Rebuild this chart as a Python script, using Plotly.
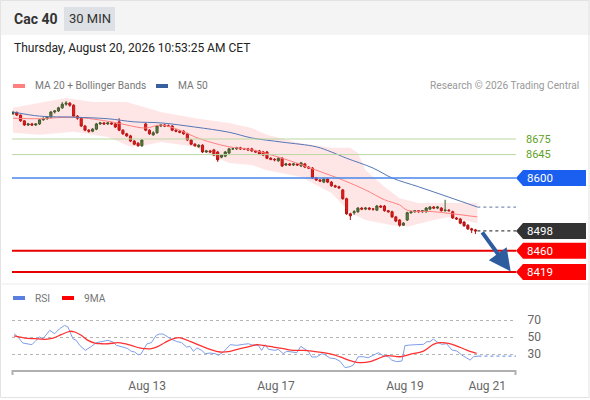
import plotly.graph_objects as go

# 30 min candles, Aug 11 -> Aug 20 10:30
opens = [8724, 8726, 8721, 8710, 8702, 8704, 8702, 8704, 8712, 8714,
         8717, 8727, 8729, 8735, 8742, 8744, 8740, 8719, 8715, 8700,
         8692, 8690, 8694, 8704, 8706, 8704, 8706, 8704, 8708, 8692,
         8685, 8681, 8671, 8667, 8662, 8704, 8692, 8683, 8687, 8700,
         8702, 8700, 8700, 8692, 8690, 8690, 8685, 8673, 8665, 8660,
         8663, 8650, 8652, 8654, 8650, 8640, 8642, 8648, 8656, 8656,
         8658, 8656, 8656, 8656, 8652, 8652, 8650, 8650, 8638, 8636,
         8633, 8638, 8625, 8627, 8625, 8627, 8623, 8627, 8621, 8619,
         8600, 8596, 8592, 8598, 8592, 8585, 8583, 8577, 8560, 8531,
         8533, 8535, 8542, 8540, 8542, 8540, 8538, 8546, 8546, 8537,
         8535, 8525, 8519, 8509, 8519, 8533, 8535, 8537, 8535, 8535,
         8540, 8544, 8542, 8542, 8537, 8538, 8535, 8523, 8521, 8515,
         8509, 8502, 8500]
highs = [8729, 8728, 8722, 8711, 8706, 8706, 8705, 8713, 8717, 8719,
         8729, 8731, 8737, 8746, 8748, 8746, 8742, 8721, 8717, 8702,
         8694, 8696, 8706, 8708, 8708, 8708, 8708, 8706, 8715, 8694,
         8687, 8683, 8673, 8669, 8675, 8706, 8694, 8690, 8702, 8704,
         8704, 8703, 8702, 8694, 8692, 8692, 8687, 8675, 8667, 8665,
         8665, 8654, 8654, 8656, 8652, 8646, 8652, 8658, 8658, 8660,
         8660, 8658, 8658, 8658, 8654, 8654, 8652, 8652, 8640, 8638,
         8640, 8640, 8629, 8629, 8629, 8629, 8631, 8629, 8623, 8621,
         8602, 8598, 8600, 8600, 8594, 8587, 8585, 8579, 8562, 8533,
         8538, 8544, 8544, 8544, 8544, 8542, 8548, 8548, 8548, 8538,
         8537, 8527, 8521, 8515, 8535, 8537, 8538, 8538, 8538, 8544,
         8546, 8546, 8546, 8544, 8558, 8540, 8537, 8525, 8523, 8517,
         8511, 8504, 8502]
lows = [8721, 8719, 8708, 8700, 8700, 8700, 8700, 8702, 8710, 8712,
        8715, 8724, 8727, 8733, 8739, 8737, 8717, 8712, 8698, 8690,
        8687, 8688, 8692, 8702, 8702, 8702, 8702, 8696, 8690, 8683,
        8679, 8669, 8663, 8660, 8660, 8690, 8683, 8681, 8685, 8698,
        8698, 8698, 8690, 8688, 8686, 8683, 8671, 8663, 8660, 8658,
        8648, 8648, 8648, 8642, 8631, 8638, 8640, 8646, 8654, 8654,
        8654, 8654, 8652, 8650, 8648, 8644, 8642, 8636, 8634, 8632,
        8631, 8621, 8623, 8623, 8623, 8623, 8621, 8619, 8617, 8598,
        8594, 8592, 8590, 8590, 8583, 8581, 8579, 8558, 8529, 8519,
        8529, 8533, 8538, 8538, 8538, 8537, 8537, 8542, 8535, 8533,
        8523, 8515, 8506, 8508, 8517, 8531, 8533, 8533, 8533, 8533,
        8538, 8540, 8540, 8535, 8535, 8535, 8521, 8519, 8511, 8506,
        8500, 8494, 8492]
closes = [8726, 8721, 8710, 8702, 8704, 8702, 8704, 8712, 8714, 8717,
          8727, 8729, 8735, 8742, 8744, 8740, 8719, 8715, 8700, 8692,
          8690, 8694, 8704, 8706, 8704, 8706, 8704, 8698, 8692, 8685,
          8681, 8671, 8665, 8662, 8673, 8692, 8685, 8687, 8700, 8702,
          8700, 8700, 8692, 8690, 8688, 8685, 8673, 8665, 8662, 8663,
          8650, 8652, 8650, 8644, 8635, 8644, 8650, 8656, 8656, 8658,
          8656, 8656, 8654, 8652, 8650, 8646, 8644, 8638, 8636, 8635,
          8638, 8623, 8627, 8625, 8627, 8625, 8629, 8621, 8619, 8600,
          8596, 8594, 8598, 8592, 8585, 8583, 8581, 8560, 8531, 8527,
          8535, 8542, 8540, 8542, 8540, 8540, 8546, 8544, 8537, 8535,
          8525, 8517, 8509, 8513, 8533, 8535, 8537, 8535, 8537, 8542,
          8544, 8542, 8544, 8537, 8538, 8537, 8523, 8521, 8513, 8508,
          8502, 8500, 8498]
bars = list(range(len(closes)))

# moving averages (bar index, price)
ma50_x = [0, 7, 16, 25, 32, 39, 48, 57, 63, 71, 80, 84, 88, 95, 100, 107, 115, 122.5]
ma50 = [8727, 8719, 8717, 8714, 8708, 8706, 8698, 8688, 8677, 8669, 8660, 8650,
        8638, 8619, 8600, 8583, 8563, 8544]
ma20_x = [0, 7, 16, 26, 30, 35, 39, 44, 48, 52, 57, 63, 71, 80, 87, 93, 98, 102, 104, 111, 122.5]
ma20 = [8715, 8714, 8717, 8708, 8702, 8696, 8702, 8692, 8679, 8669, 8660, 8654,
        8638, 8615, 8596, 8577, 8558, 8548, 8538, 8535, 8525]
bb_up_x = [0, 7, 14, 21, 30, 39, 48, 57, 63, 67, 76, 84, 89, 91, 93, 98, 102, 107, 115, 122.5]
bb_up = [8735, 8744, 8754, 8746, 8746, 8727, 8715, 8706, 8696, 8683, 8667, 8658,
         8658, 8648, 8615, 8583, 8561, 8552, 8552, 8552]
bb_low_x = [0, 7, 16, 25, 31, 35, 39, 48, 52, 57, 63, 67, 76, 84, 89, 93, 100, 104, 111, 115, 122.5]
bb_low = [8687, 8683, 8689, 8679, 8660, 8663, 8669, 8660, 8644, 8629, 8625, 8615,
          8602, 8571, 8533, 8519, 8509, 8506, 8519, 8525, 8513]

# RSI panel
rsi_x = [0.3, 1.3, 2.6, 4.0, 5.0, 6.1, 7.0, 7.9, 9.7, 11.0, 12.3, 13.6, 14.5, 15.8,
         16.7, 17.6, 19.1, 20.7, 22.0, 23.7, 25.1, 26.4, 27.3, 29.0, 30.3, 31.2, 32.1,
         33.0, 33.7, 34.7, 35.4, 36.5, 37.8, 38.7, 39.6, 40.4, 41.8, 43.1, 44.5, 45.8,
         46.7, 47.6, 48.5, 49.8, 50.7, 52.0, 53.3, 54.2, 55.5, 57.3, 59.0, 60.8, 62.1,
         63.4, 64.7, 65.6, 66.5, 67.4, 69.1, 70.0, 71.3, 72.2, 73.5, 74.9, 75.9, 77.0,
         77.9, 78.8, 80.1, 81.5, 82.3, 83.6, 85.0, 86.3, 87.6, 88.9, 89.8, 91.1, 92.4,
         93.7, 95.1, 96.4, 97.7, 99.0, 99.9, 101.2, 102.6, 103.4, 104.7, 106.9, 108.3,
         109.2, 110.0, 110.9, 111.8, 113.1, 114.4, 115.8, 117.1, 118.4, 119.7, 120.6,
         121.5, 122.8]
rsi = [53.9, 50, 42.9, 42.1, 41, 46.1, 50, 48, 57.8, 53.9, 59.8, 63.7, 61.8, 48,
       46.1, 40.2, 34.3, 39, 43.3, 44.9, 46.1, 44.1, 40.2, 38.2, 36.3, 33.2, 32.4,
       29.2, 29.6, 37.1, 42.1, 43.3, 52, 53.5, 53.5, 51.2, 47.3, 44.9, 43.3, 38.2,
       39, 33.2, 37.1, 34.3, 30.4, 31.2, 30.4, 28.5, 32.4, 41, 40.2, 41.4, 42.1,
       40.2, 40.2, 34.3, 41, 35.5, 34.3, 35.5, 30.4, 33.2, 32.4, 31.6, 39, 36.3,
       33.2, 26.5, 26.5, 30.4, 29.2, 25.3, 24.5, 21.4, 13.9, 15.1, 17.1, 26.8, 26.8,
       25.6, 28.8, 31.6, 28, 26.8, 22.9, 21, 21.8, 39.8, 40.6, 40.6, 41.4,
       44.5, 44.5, 47.6, 44.5, 41.4, 42.1, 34.7, 33.5, 28.8, 24.9, 22.9,
       26.8, 27.6]
ma9_x = [0.3, 3.1, 5.7, 8.4, 10.6, 12.7, 15.0, 16.3, 18.0, 19.8, 21.6, 23.3, 25.1,
         27.7, 29.5, 31.2, 33.4, 34.7, 36.5, 38.3, 40.0, 41.8, 43.7, 44.9, 46.7, 49.3,
         52.0, 54.6, 57.3, 59.9, 62.5, 64.3, 66.0, 68.7, 71.3, 74.0, 76.6, 79.2, 81.9,
         84.5, 86.3, 90.7, 94.2, 96.0, 98.6, 102.1, 104.7, 108.3, 110.9, 112.7, 114.9,
         117.1, 119.7, 122.3]
ma9 = [51.2, 48.8, 48, 47.3, 48.8, 52.7, 56.7, 55.9, 52, 46.1, 42.9, 42.1, 42.1,
       43.3, 42.1, 40.2, 37.1, 36.3, 36.3, 39, 43.3, 47.3, 49.2, 48, 44.9, 40.2,
       35.5, 32.4, 33.2, 36.3, 39, 41, 40.2, 38.2, 36.3, 34.3, 34.3, 33.2, 31.6,
       29.2, 26.5, 20.2, 21, 24.1, 28, 26.8, 29.6, 33.5, 41.4, 43.3, 42.6,
       39.4, 34.7, 30.8]

tick_pos = [35.4, 69.4, 103.4, 125.1]
tick_text = ["Aug 13", "Aug 17", "Aug 19", "Aug 21"]

# key levels
res_levels = [8675, 8645]
pivot = 8600
last_price = closes[-1]
sup_levels = [8460, 8419]

W, H = 590, 400
def px(x):
    return x / W
def py(y):
    return 1 - y / H

XR = [-0.26, 132.7]
FONT = "Roboto, Arial, sans-serif"

fig = go.Figure()

fig.add_trace(go.Scatter(x=bb_up_x + bb_low_x[::-1], y=bb_up + bb_low[::-1],
                         fill="toself", fillcolor="rgba(255,60,60,0.13)",
                         line=dict(width=0), mode="lines", hoverinfo="skip"))
fig.add_trace(go.Scatter(x=ma20_x, y=ma20, mode="lines",
                         line=dict(color="#ff8080", width=1, shape="spline")))
fig.add_trace(go.Scatter(x=ma50_x, y=ma50, mode="lines",
                         line=dict(color="#5577b8", width=1, shape="spline")))
fig.add_trace(go.Scatter(x=[ma50_x[-1], XR[1]], y=[ma50[-1], ma50[-1]], mode="lines",
                         line=dict(color="#7d8fb5", width=1.2, dash="dot")))
fig.add_trace(go.Scatter(x=[bars[-1] + 0.5, XR[1]], y=[last_price, last_price], mode="lines",
                         line=dict(color="#444444", width=1.2, dash="dot")))

fig.add_trace(go.Candlestick(
    x=bars, open=opens, high=highs, low=lows, close=closes,
    increasing=dict(line=dict(color="#2b5e2b", width=1), fillcolor="#3f8f3f"),
    decreasing=dict(line=dict(color="#b01010", width=1), fillcolor="#e81515"),
    whiskerwidth=0))

fig.add_trace(go.Scatter(x=rsi_x, y=rsi, mode="lines", xaxis="x2", yaxis="y2",
                         line=dict(color="#7e9ee8", width=1)))
fig.add_trace(go.Scatter(x=[rsi_x[-1], XR[1]], y=[rsi[-1], rsi[-1]], mode="lines",
                         xaxis="x2", yaxis="y2",
                         line=dict(color="#7e9ee8", width=1.2, dash="dot")))
fig.add_trace(go.Scatter(x=ma9_x, y=ma9, mode="lines", xaxis="x2", yaxis="y2",
                         line=dict(color="#ff3030", width=1.3, shape="spline")))

shapes = []
annotations = []

# card + header
shapes.append(dict(type="rect", xref="paper", yref="paper", x0=0, x1=1, y0=py(35), y1=1,
                   fillcolor="#f4f4f4", line=dict(width=0), layer="below"))
shapes.append(dict(type="rect", xref="paper", yref="paper", x0=px(64), x1=px(115),
                   y0=py(31), y1=py(7), fillcolor="#dde0e4", line=dict(width=0), layer="below"))
shapes.append(dict(type="rect", xref="paper", yref="paper", x0=px(0.5), x1=px(589),
                   y0=py(397.5), y1=py(0.5), line=dict(color="#e3e3e3", width=1)))
shapes.append(dict(type="line", xref="paper", yref="paper", x0=0, x1=1, y0=py(284), y1=py(284),
                   line=dict(color="#ececec", width=1)))

annotations.append(dict(text="<b>Cac 40</b>", xref="paper", yref="paper", x=px(12), y=py(19),
                        xanchor="left", yanchor="middle", showarrow=False,
                        font=dict(size=14, color="#333333")))
annotations.append(dict(text="30 MIN", xref="paper", yref="paper", x=px(89.5), y=py(19),
                        xanchor="center", yanchor="middle", showarrow=False,
                        font=dict(size=13, color="#333333")))
annotations.append(dict(text="Thursday, August 20, 2026 10:53:25 AM CET", xref="paper", yref="paper",
                        x=px(12), y=py(48), xanchor="left", yanchor="middle", showarrow=False,
                        font=dict(size=12, color="#222222")))

# legends
def legend_item(x, y, color, label):
    shapes.append(dict(type="line", xref="paper", yref="paper", x0=px(x), x1=px(x + 12),
                       y0=py(y), y1=py(y), line=dict(color=color, width=4)))
    annotations.append(dict(text=label, xref="paper", yref="paper", x=px(x + 20), y=py(y),
                            xanchor="left", yanchor="middle", showarrow=False,
                            font=dict(size=10.2, color="#777777")))

legend_item(13, 86, "#ff8080", "MA 20 + Bollinger Bands")
legend_item(156, 86, "#3a5f9f", "MA 50")
legend_item(13, 298, "#5b7fe0", "RSI")
legend_item(62, 298, "#ff0000", "9MA")
annotations.append(dict(text="Research © 2026 Trading Central", xref="paper", yref="paper",
                        x=px(581), y=py(86), xanchor="right", yanchor="middle", showarrow=False,
                        font=dict(size=10.2, color="#999999")))

# horizontal levels
for lv in res_levels:
    shapes.append(dict(type="line", xref="x", yref="y", x0=XR[0], x1=XR[1], y0=lv, y1=lv,
                       line=dict(color="#b9d8a2", width=1)))
    annotations.append(dict(text=str(lv), xref="paper", yref="y", x=px(524), y=lv,
                            xanchor="left", yanchor="middle", showarrow=False,
                            font=dict(size=11, color="#5fa227")))
shapes.append(dict(type="line", xref="x", yref="y", x0=XR[0], x1=XR[1], y0=pivot, y1=pivot,
                   line=dict(color="#4a86e8", width=1.5)))
for lv in sup_levels:
    shapes.append(dict(type="line", xref="x", yref="y", x0=XR[0], x1=XR[1], y0=lv, y1=lv,
                       line=dict(color="#e60000", width=2)))

def tag(level, color):
    h = 15.5
    xt, xb, xr = px(516), px(523), px(586)
    path = "M {0},{1} L {2},{3} L {4},{3} L {4},{5} L {2},{5} Z".format(
        xt, level, xb, level + h, xr, level - h)
    shapes.append(dict(type="path", xref="paper", yref="y", path=path,
                       fillcolor=color, line=dict(width=0)))
    annotations.append(dict(text=str(level), xref="paper", yref="y", x=px(525), y=level,
                            xanchor="left", yanchor="middle", showarrow=False,
                            font=dict(size=11.5, color="white")))

tag(pivot, "#1a5ff0")
tag(last_price, "#333333")
for lv in sup_levels:
    tag(lv, "#ff0000")

# forecast arrow
annotations.append(dict(x=bars[-1] + 9.3, y=sup_levels[-1] + 1, ax=bars[-1] + 1.5, ay=last_price,
                        xref="x", yref="y", axref="x", ayref="y", text="", showarrow=True,
                        arrowhead=2, arrowsize=1.1, arrowwidth=4, arrowcolor="#2d5d9f"))

# RSI axis end ticks
for xe in [12.5, 515.5]:
    shapes.append(dict(type="line", xref="paper", yref="paper", x0=px(xe), x1=px(xe),
                       y0=py(370), y1=py(375), line=dict(color="#b0b0b0", width=2)))

fig.update_layout(
    width=W, height=H, margin=dict(l=0, r=0, t=0, b=0),
    paper_bgcolor="white", plot_bgcolor="white", showlegend=False,
    font=dict(family=FONT), boxgap=0.2,
    shapes=shapes, annotations=annotations,
    xaxis=dict(domain=[px(12), px(516)], range=XR, visible=False, anchor="y",
               rangeslider=dict(visible=False), fixedrange=True),
    yaxis=dict(domain=[py(282), py(95)], range=[8399.7, 8759.7], visible=False,
               anchor="x", fixedrange=True),
    xaxis2=dict(domain=[px(12), px(516)], range=XR, anchor="y2",
                tickvals=tick_pos, ticktext=tick_text, showgrid=False, zeroline=False,
                showline=True, linecolor="#b0b0b0", linewidth=2,
                ticks="outside", ticklen=4, tickcolor="rgba(0,0,0,0)",
                tickfont=dict(size=12, color="#666666")),
    yaxis2=dict(domain=[py(370), py(290)], range=[11.2, 105.3], anchor="x2", side="right",
                tickvals=[30, 50, 70], showgrid=True, gridcolor="#b5b5b5", griddash="dot",
                zeroline=False, showline=False, ticks="outside", ticklen=8,
                tickcolor="rgba(0,0,0,0)", tickfont=dict(size=12, color="#666666")),
)

fig.write_html("out.html", config={"displayModeBar": False},
               post_script="document.body.style.margin='0';")
